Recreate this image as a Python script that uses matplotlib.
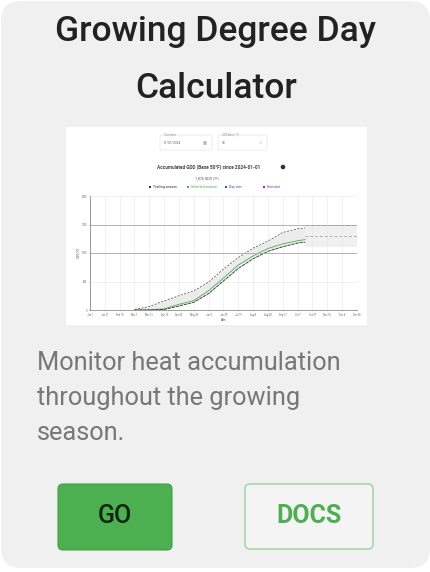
import matplotlib
matplotlib.use("Agg")
import matplotlib.pyplot as plt
from matplotlib.patches import FancyBboxPatch, Rectangle, Circle

plt.rcParams['font.family'] = ['Roboto', 'DejaVu Sans']

# Card text
title_lines = ["Growing Degree Day", "Calculator"]
body_lines = ["Monitor heat accumulation", "throughout the growing", "season."]
buttons = ["GO", "DOCS"]

# Thumbnail chart data (days since Jan 1, cumulative GDD)
days = [60, 80, 100, 120, 140, 160, 180, 200, 220, 240, 260, 280, 290]
gdd_trailing = [10, 60, 160, 250, 335, 490, 720, 920, 1085, 1210, 1360, 1425, 1440]
gdd_selected = [0, 5, 20, 100, 165, 340, 560, 790, 950, 1080, 1160, 1215, 1235]
gdd_lower = [0, 0, 10, 70, 135, 290, 510, 730, 900, 1030, 1110, 1175, 1190]
proj_days = [290, 360]
proj_hi = [1500, 1500]
proj_mid = [1300, 1300]
proj_lo = [1100, 1100]
ref_lines = [1000, 1500]
y_ticks = [0, 500, 1000, 1500, 2000]
x_ticks = list(range(0, 361, 20))
x_labels = ["Jan 1", "Jan 21", "Feb 10", "Mar 1", "Mar 21", "Apr 10", "Apr 30",
            "May 20", "Jun 9", "Jun 29", "Jul 19", "Aug 8", "Aug 28", "Sep 17",
            "Oct 7", "Oct 27", "Nov 16", "Dec 6", "Dec 26"]
legend_names = ["Trailing season", "Selected season", "Day min", "Forecast"]
legend_colors = ["#333333", "#4caf50", "#3f51b5", "#9c27b0"]

W, H = 431, 572
fig = plt.figure(figsize=(W / 100, H / 100), dpi=100)
fig.patch.set_facecolor("white")

# background axes in pixel coordinates
bg = fig.add_axes([0, 0, 1, 1])
bg.set_xlim(0, W)
bg.set_ylim(H, 0)
bg.axis("off")

card = FancyBboxPatch((1, 1), 429, 567, boxstyle="round,pad=0,rounding_size=20",
                      fc="#f0f0f0", ec="none")
bg.add_patch(card)

bg.text(216, 41.5, title_lines[0], ha="center", va="baseline", fontsize=25.5,
        fontweight="medium", color="#222222")
bg.text(216, 98.5, title_lines[1], ha="center", va="baseline", fontsize=25.5,
        fontweight="medium", color="#222222")

# thumbnail
bg.add_patch(Rectangle((66, 127), 301, 198, fc="white", ec="none"))
# input boxes
for x0, w, lab, val in [(160, 52, "Start date", "01/01/2024"), (218, 49, "GDD Base (°F)", "50")]:
    bg.add_patch(FancyBboxPatch((x0, 135), w, 15, boxstyle="round,pad=0,rounding_size=1.5",
                                fc="white", ec="#e4e4e4", lw=0.5))
    bg.text(x0 + 4, 134.5, lab, fontsize=2, color="#999999", va="center")
    bg.text(x0 + 4, 143, val, fontsize=2.3, color="#666666", va="center")
bg.text(205, 143, "▦", fontsize=3, color="#999999", va="center", ha="center")
bg.text(260, 143, "✓", fontsize=3, color="#999999", va="center", ha="center",
        family=["DejaVu Sans"])
bg.text(209, 167, "Accumulated GDD (Base 50°F) since 2024-01-01", ha="center", va="center",
        fontsize=3.4, fontweight="bold", color="#444444")
bg.add_patch(Circle((283, 167), 2.3, fc="#333333", ec="none"))
bg.text(207, 178, "1,876 GDD (°F)", ha="center", va="center", fontsize=2.6, color="#555555")
lx = 149
for name, c in zip(legend_names, legend_colors):
    bg.add_patch(Rectangle((lx, 185.5), 2.5, 2.5, fc=c, ec="none"))
    bg.text(lx + 4, 187, name, fontsize=2.5, color=c, va="center")
    lx += 38

# inset chart
ax = fig.add_axes([90 / W, 1 - 310 / H, 267 / W, 114 / H])
ax.set_xlim(0, 360)
ax.set_ylim(0, 2000)
ax.fill_between(days, gdd_lower, gdd_trailing, color="#ececec", lw=0)
ax.fill_between(proj_days, proj_lo, proj_hi, color="#f0f0f0", lw=0)
ax.plot(days, gdd_trailing, color="#444444", lw=0.5, ls=(0, (3, 2)))
ax.plot(days, gdd_selected, color="#4caf50", lw=0.6)
ax.plot(days, gdd_lower, color="#333333", lw=0.6, ls=(0, (4, 1)))
ax.plot(proj_days, proj_hi, color="#666666", lw=0.6, ls=(0, (4, 3)))
ax.plot(proj_days, proj_mid, color="#999999", lw=0.5, ls=(0, (4, 3)))
for r in ref_lines:
    ax.axhline(r, color="#aaaaaa", lw=0.6)
ax.set_xticks(x_ticks)
ax.set_xticklabels(x_labels, fontsize=1.8, color="#666666")
ax.set_yticks(y_ticks)
ax.set_yticklabels([str(v) for v in y_ticks], fontsize=1.8, color="#666666")
ax.tick_params(length=1, width=0.3, pad=1, colors="#999999", labelcolor="#666666")
ax.grid(True, color="#e6e6e6", lw=0.4)
for s in ["top", "right"]:
    ax.spines[s].set_visible(False)
for s in ["left", "bottom"]:
    ax.spines[s].set_color("#777777")
    ax.spines[s].set_linewidth(0.5)
ax.set_xlabel("Date", fontsize=2, color="#555555", labelpad=1)
ax.set_ylabel("GDD (°F)", fontsize=2, color="#555555", labelpad=1)

# body text
for y, line in zip([370.5, 405, 440], body_lines):
    bg.text(37, y, line, fontsize=18.3, color="#777777", va="baseline")

# buttons
bg.add_patch(FancyBboxPatch((58, 484), 114, 66, boxstyle="round,pad=0,rounding_size=5",
                            fc="#4caf50", ec="#43a047", lw=0.8))
bg.text(115, 523, buttons[0], ha="center", va="baseline", fontsize=18,
        fontweight="medium", color="#10250f")
bg.add_patch(FancyBboxPatch((245, 484), 128, 65, boxstyle="round,pad=0,rounding_size=5",
                            fc="#f4f4f4", ec="#a5d6a7", lw=1.2))
bg.text(309, 523, buttons[1], ha="center", va="baseline", fontsize=18,
        fontweight="bold", color="#4caf50")

fig.savefig("out.png", dpi=100, facecolor="white")
